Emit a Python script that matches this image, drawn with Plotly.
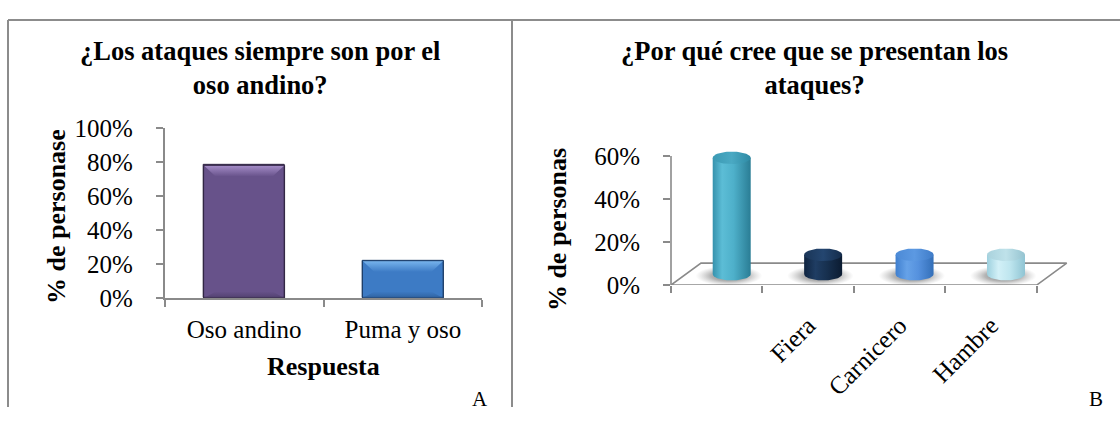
import numpy as np
import plotly.graph_objects as go

# ---- data -------------------------------------------------------------
answers = ["Oso andino", "Puma y oso"]
pct_answers = [78, 22]

reasons = ["", "Fiera", "Carnicero", "Hambre"]
pct_reasons = [54, 9, 9, 9]

a_ticks = [0, 20, 40, 60, 80, 100]
b_ticks = [0, 20, 40, 60]

# ---- page geometry ----------------------------------------------------
W, H = 1120, 421
FONT = "Liberation Serif"
AXIS_GRAY = "#8a8a8a"


def px(x):
    return x / W


def py(y):
    return 1 - y / H


fig = go.Figure()

# ---- panel A: flat bars with bevel ------------------------------------
A_X0, A_X1 = 164.7, 482.3     # plot area, pixels
A_Y0, A_Y1 = 304.7, 122.7     # 0 % and 100 % lines
a_ppu_x = (A_X1 - A_X0) / 2.0
a_ppu_y = (A_Y0 - A_Y1) / 100.0

bar_face = ["#67528a", "#3d7bc5"]
bar_light = ["#a58dc8", "#79b6ee"]
bar_dark = ["#4c3c68", "#2b5b96"]
bar_edge = ["#2f2442", "#1d3d68"]
bar_w = 0.51

fig.add_trace(go.Bar(
    x=list(range(len(answers))), y=pct_answers, width=bar_w,
    marker=dict(color=bar_face, line=dict(color=bar_edge, width=1)),
    xaxis="x", yaxis="y", showlegend=False, hoverinfo="skip"))

bev_x = 12 / a_ppu_x
bev_y = 12 / a_ppu_y
for i, v in enumerate(pct_answers):
    l, r = i - bar_w / 2, i + bar_w / 2
    # top bevel
    fig.add_trace(go.Scatter(
        x=[l, r, r - bev_x, l + bev_x, l], y=[v, v, v - bev_y, v - bev_y, v],
        fill="toself", mode="lines", line=dict(width=0),
        fillgradient=dict(type="vertical",
                          colorscale=[[0, bar_face[i]], [1, bar_light[i]]]),
        xaxis="x", yaxis="y", showlegend=False, hoverinfo="skip"))
    # bottom bevel
    fig.add_trace(go.Scatter(
        x=[l, r, r - bev_x, l + bev_x, l], y=[0, 0, bev_y * 0.6, bev_y * 0.6, 0],
        fill="toself", mode="lines", line=dict(width=0),
        fillgradient=dict(type="vertical",
                          colorscale=[[0, bar_dark[i]], [1, bar_face[i]]]),
        opacity=0.8,
        xaxis="x", yaxis="y", showlegend=False, hoverinfo="skip"))
    # outline on top
    fig.add_trace(go.Scatter(
        x=[l, r, r, l, l], y=[0, 0, v, v, 0], mode="lines",
        line=dict(color=bar_edge[i], width=1),
        xaxis="x", yaxis="y", showlegend=False, hoverinfo="skip"))

# ---- panel B: cylinders on a 3-D floor --------------------------------
B_X0, B_X1 = 671.0, 1036.7    # front floor edge, pixels
B_Y0, B_Y60 = 290.7, 152.7    # 0 % and 60 % lines
b_ppu_x = (B_X1 - B_X0) / 4.0
b_ppu_y = (B_Y0 - B_Y60) / 60.0
b_xr = [-0.5, 3.9]
b_yr = [0, 67]

DX = 15 / b_ppu_x             # half floor depth, x units
DY = 11.7 / b_ppu_y           # half floor depth, y units

cyl_body = [
    [[0, "#3692ad"], [0.25, "#5cbdd6"], [0.55, "#4eb0ca"], [1, "#2a7d95"]],
    [[0, "#0f2440"], [0.3, "#1f3d63"], [0.6, "#17304f"], [1, "#0b1b31"]],
    [[0, "#3f7fcf"], [0.3, "#66a2e8"], [0.6, "#5591de"], [1, "#336fb8"]],
    [[0, "#9dd0de"], [0.3, "#d2f0f7"], [0.6, "#bfe6ef"], [1, "#8fc4d3"]],
]
cyl_top = [
    [[0, "#3b9ab4"], [0.5, "#4aa9c3"], [1, "#2e8aa4"]],
    [[0, "#1a3557"], [0.5, "#244670"], [1, "#142c4b"]],
    [[0, "#4c8ad6"], [0.5, "#5c99e2"], [1, "#3f7cc8"]],
    [[0, "#a9d2dd"], [0.5, "#bfe2ea"], [1, "#95c3d0"]],
]

rx = 19 / b_ppu_x
ry = 6.7 / b_ppu_y
t = np.linspace(0, 2 * np.pi, 73)

# floor outline
fx = [b_xr[0], 3.5, 3.5 + 2 * DX, b_xr[0] + 2 * DX, b_xr[0]]
fy = [0, 0, 2 * DY, 2 * DY, 0]
fig.add_trace(go.Scatter(
    x=fx, y=fy, mode="lines", line=dict(color=AXIS_GRAY, width=1.6),
    xaxis="x2", yaxis="y2", showlegend=False, hoverinfo="skip"))

for i, v in enumerate(pct_reasons):
    cx = i + DX
    yb = DY
    yt = DY + v
    # soft shadow
    sx = cx - 0.03 + rx * 1.75 * np.cos(t)
    sy = yb - 0.8 + ry * 1.6 * np.sin(t)
    fig.add_trace(go.Scatter(
        x=sx, y=sy, fill="toself", mode="lines", line=dict(width=0),
        fillgradient=dict(type="radial",
                          colorscale=[[0, "rgba(60,60,60,0.75)"],
                                      [0.55, "rgba(90,90,90,0.45)"],
                                      [1, "rgba(140,140,140,0)"]]),
        xaxis="x2", yaxis="y2", showlegend=False, hoverinfo="skip"))
    # body: lower half of the base ellipse, then straight up to the top
    tb = np.linspace(np.pi, 2 * np.pi, 37)
    bx = list(cx + rx * np.cos(tb)) + [cx + rx, cx - rx, cx - rx]
    by = list(yb + ry * np.sin(tb)) + [yt, yt, yb]
    fig.add_trace(go.Scatter(
        x=bx, y=by, fill="toself", mode="lines", line=dict(width=0),
        fillgradient=dict(type="horizontal", colorscale=cyl_body[i]),
        xaxis="x2", yaxis="y2", showlegend=False, hoverinfo="skip"))
    # top cap
    fig.add_trace(go.Scatter(
        x=cx + rx * np.cos(t), y=yt + ry * np.sin(t), fill="toself",
        mode="lines", line=dict(width=0),
        fillgradient=dict(type="horizontal", colorscale=cyl_top[i]),
        xaxis="x2", yaxis="y2", showlegend=False, hoverinfo="skip"))

# ---- layout -----------------------------------------------------------
tick_font = dict(family=FONT, size=25, color="black")
title_font = dict(family=FONT, size=26.5, color="black")
axis_title_font = dict(family=FONT, size=26, color="black")

b_dom_y = [py(B_Y0), py(B_Y0 - b_yr[1] * b_ppu_y)]
b_dom_x = [px(B_X0), px(B_X0 + (b_xr[1] + 0.5) * b_ppu_x)]


def b_paper_y(v):
    return b_dom_y[0] + (v - b_yr[0]) / (b_yr[1] - b_yr[0]) * (b_dom_y[1] - b_dom_y[0])


fig.update_layout(
    width=W, height=H, margin=dict(l=0, r=0, t=0, b=0),
    paper_bgcolor="white", plot_bgcolor="rgba(0,0,0,0)",
    bargap=0,
    xaxis=dict(domain=[px(A_X0), px(A_X1)], range=[-0.5, 1.5],
               tickmode="array", tickvals=[0, 1], ticktext=answers,
               ticks="", showline=True, linecolor=AXIS_GRAY, linewidth=1.6,
               minor=dict(tickmode="array", tickvals=[-0.5, 0.5, 1.5],
                          ticks="outside", ticklen=7, tickcolor=AXIS_GRAY,
                          tickwidth=1.6),
               showgrid=False, zeroline=False, tickfont=tick_font,
               ticklabelstandoff=8, fixedrange=True),
    yaxis=dict(domain=[py(A_Y0), py(A_Y1)], range=[0, 100],
               tickmode="array", tickvals=a_ticks,
               ticktext=[f"{v}%" for v in a_ticks],
               ticks="outside", ticklen=7,
               tickcolor=AXIS_GRAY, tickwidth=1.6,
               showline=True, linecolor=AXIS_GRAY, linewidth=1.6,
               showgrid=False, zeroline=False, tickfont=tick_font,
               ticklabelstandoff=18, fixedrange=True),
    xaxis2=dict(domain=b_dom_x, range=b_xr, anchor="y2",
                tickmode="array", tickvals=list(range(len(reasons))),
                ticktext=reasons, tickangle=-45, ticks="",
                showline=False,
                minor=dict(tickmode="array",
                           tickvals=[-0.5, 0.5, 1.5, 2.5, 3.5],
                           ticks="outside", ticklen=7, tickcolor=AXIS_GRAY,
                           tickwidth=1.6),
                showgrid=False, zeroline=False, tickfont=tick_font,
                ticklabelstandoff=20, fixedrange=True),
    yaxis2=dict(domain=b_dom_y, range=b_yr, anchor="x2",
                tickmode="array", tickvals=b_ticks,
                ticktext=[f"{v}%" for v in b_ticks],
                ticks="outside", ticklen=7,
                tickcolor=AXIS_GRAY, tickwidth=1.6,
                showline=False, showgrid=False, zeroline=False,
                tickfont=tick_font, ticklabelstandoff=18, fixedrange=True),
)

# value axis line of panel B (stops at the 60 % tick)
fig.add_shape(type="line", xref="paper", yref="paper",
              x0=b_dom_x[0], x1=b_dom_x[0],
              y0=b_paper_y(0), y1=b_paper_y(60),
              line=dict(color=AXIS_GRAY, width=1.6))

# panel frames
frame = dict(color="#8c8c8c", width=2)
fig.add_shape(type="line", xref="paper", yref="paper",
              x0=px(8), x1=1, y0=py(7.5), y1=py(7.5), line=frame)
fig.add_shape(type="line", xref="paper", yref="paper",
              x0=px(8), x1=px(8), y0=0, y1=py(7.5), line=frame)
fig.add_shape(type="line", xref="paper", yref="paper",
              x0=px(512), x1=px(512), y0=0, y1=py(7.5), line=frame)

# titles and labels
for text, x in (("<b>¿Los ataques siempre son por el<br>oso andino?</b>", 260),
                ("<b>¿Por qué cree que se presentan los<br>ataques?</b>", 814)):
    fig.add_annotation(xref="paper", yref="paper", showarrow=False,
                       x=px(x), y=py(59), xanchor="center", yanchor="middle",
                       text=text, font=title_font)

for text, x, y in (("<b>% de personase</b>", 56, 218),
                   ("<b>% de personas</b>", 557, 232)):
    fig.add_annotation(xref="paper", yref="paper", showarrow=False,
                       x=px(x), y=py(y), xanchor="center", yanchor="middle",
                       text=text, textangle=-90, font=axis_title_font)

fig.add_annotation(xref="paper", yref="paper", showarrow=False,
                   x=px(323), y=py(378), xanchor="center", yanchor="middle",
                   text="<b>Respuesta</b>", font=axis_title_font)

for lab, x in (("A", 479.5), ("B", 1096)):
    fig.add_annotation(xref="paper", yref="paper", showarrow=False,
                       x=px(x), y=py(412), xanchor="center", yanchor="middle",
                       text=lab, font=dict(family=FONT, size=21, color="black"))

fig.write_html("out.html")
